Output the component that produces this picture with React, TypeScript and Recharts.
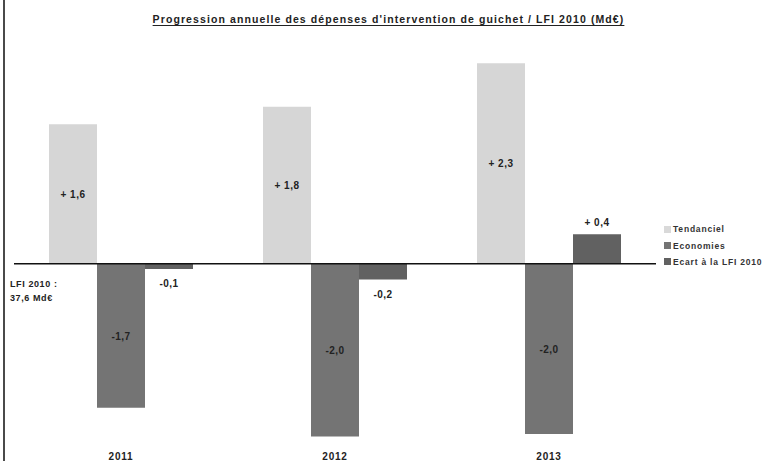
import React from "react";
import {
  BarChart,
  Bar,
  XAxis,
  YAxis,
  ReferenceLine,
  LabelList,
} from "recharts";

const years = ["2011", "2012", "2013"];
const tendanciel = [1.6, 1.8, 2.3];
const economies = [-1.65, -1.98, -1.95];
const ecart = [-0.06, -0.18, 0.34];
const tendancielLabels = ["+ 1,6", "+ 1,8", "+ 2,3"];
const economiesLabels = ["-1,7", "-2,0", "-2,0"];
const ecartLabels = ["-0,1", "-0,2", "+ 0,4"];

const seriesNames = ["Tendanciel", "Economies", "Ecart à la LFI 2010"];
const colors = ["#d6d6d6", "#747474", "#616161"];

const data = years.map((y, i) => ({
  year: y,
  tendanciel: tendanciel[i],
  economies: economies[i],
  ecart: ecart[i],
}));

const FONT = "'Liberation Sans', Arial, sans-serif";

function CenterLabel(labels: string[]) {
  return (props: any) => {
    const { x, y, width, height, index } = props;
    const cy = y + height / 2;
    return (
      <text
        x={x + width / 2}
        y={cy}
        dy={4}
        textAnchor="middle"
        fontSize={10}
        fontWeight="bold"
        fill="#222"
        fontFamily={FONT}
        letterSpacing={0.5}
      >
        {labels[index]}
      </text>
    );
  };
}

function EndLabel(props: any) {
  const { x, y, width, height, index } = props;
  const top = Math.min(y, y + height);
  const bottom = Math.max(y, y + height);
  const neg = ecart[index] < 0;
  return (
    <text
      x={x + width / 2}
      y={neg ? bottom + 18 : top - 8}
      textAnchor="middle"
      fontSize={10}
      fontWeight="bold"
      fill="#222"
      fontFamily={FONT}
      letterSpacing={0.5}
    >
      {ecartLabels[index]}
    </text>
  );
}

export default function App() {
  return (
    <div
      style={{
        position: "absolute",
        left: 0,
        top: 0,
        width: 771,
        height: 461,
        background: "#fff",
        overflow: "hidden",
        fontFamily: FONT,
      }}
    >
      <div
        style={{
          position: "absolute",
          left: 3,
          top: 0,
          width: 2,
          height: 461,
          background: "#4a4a4a",
        }}
      />
      <div
        style={{
          position: "absolute",
          left: 0,
          width: 777,
          top: 13,
          textAlign: "center",
          fontSize: 10.5,
          fontWeight: "bold",
          letterSpacing: 1.1,
          color: "#222",
          textDecoration: "underline",
          textUnderlineOffset: 2,
        }}
      >
        Progression annuelle des dépenses d'intervention de guichet / LFI 2010 (Md€)
      </div>
      <div
        style={{
          position: "absolute",
          left: 10,
          top: 277,
          fontSize: 9,
          fontWeight: "bold",
          letterSpacing: 0.6,
          lineHeight: "14px",
          color: "#222",
        }}
      >
        LFI 2010 :
        <br />
        37,6 Md€
      </div>
      <div style={{ position: "absolute", left: 664, top: 221 }}>
        {seriesNames.map((n, i) => (
          <div
            key={n}
            style={{
              display: "flex",
              alignItems: "center",
              height: 16.4,
              fontSize: 8.5,
              fontWeight: "bold",
              letterSpacing: 0.8,
              color: "#333",
              whiteSpace: "nowrap",
            }}
          >
            <span
              style={{
                display: "inline-block",
                width: 7,
                height: 7,
                background: i === 0 ? "#d9d9d9" : colors[i],
                marginRight: 2,
              }}
            />
            {n}
          </div>
        ))}
      </div>
      <BarChart
        width={771}
        height={461}
        data={data}
        margin={{ top: 37, right: 115, bottom: 0, left: 14 }}
        barCategoryGap={35}
        barGap={0}
        style={{ position: "absolute", left: 0, top: 0 }}
      >
        <XAxis
          dataKey="year"
          axisLine={false}
          tickLine={false}
          height={14}
          tickMargin={0}
          tick={{
            fontSize: 10,
            fontWeight: "bold",
            fill: "#222",
            fontFamily: FONT,
            letterSpacing: 0.8,
          }}
        />
        <YAxis hide domain={[-2.1, 2.6]} type="number" allowDataOverflow />
        <Bar dataKey="tendanciel" fill={colors[0]} isAnimationActive={false}>
          <LabelList content={CenterLabel(tendancielLabels)} />
        </Bar>
        <Bar dataKey="economies" fill={colors[1]} isAnimationActive={false}>
          <LabelList content={CenterLabel(economiesLabels)} />
        </Bar>
        <Bar dataKey="ecart" fill={colors[2]} isAnimationActive={false}>
          <LabelList content={EndLabel} />
        </Bar>
        <ReferenceLine y={0} stroke="#111" strokeWidth={1.5} />
      </BarChart>
    </div>
  );
}
